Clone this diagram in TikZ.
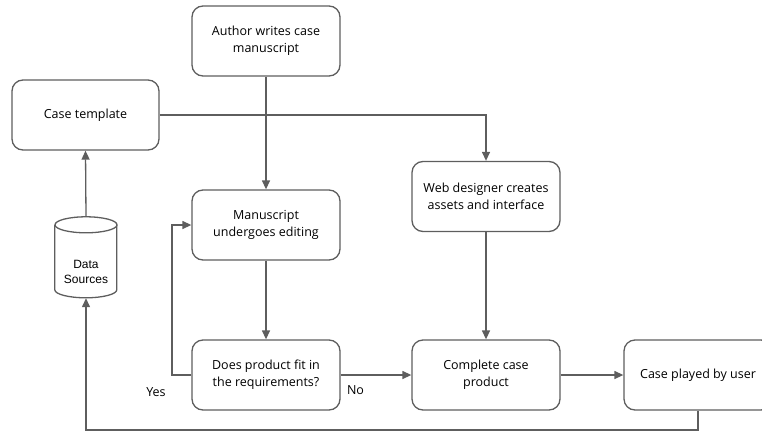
\documentclass[tikz,border=0pt]{standalone}
\usepackage{fontspec}
\setmainfont{Open Sans}
\newfontfamily\dsfont{Liberation Sans}
\usetikzlibrary{arrows.meta}
\definecolor{linegray}{HTML}{5E5E5E}
\tikzset{
  flowbox/.style={draw=linegray, line width=1.3pt, rounded corners=11pt,
    minimum width=148pt, minimum height=70pt, align=center,
    font=\fontsize{12.5}{17}\selectfont, inner sep=2pt},
  conn/.style={draw=linegray, line width=1.3pt, -{Triangle[length=9pt,width=8pt]}},
  plain/.style={draw=linegray, line width=1.3pt},
  lbl/.style={font=\fontsize{12.5}{14}\selectfont, inner sep=0pt}
}
\begin{document}
\begin{tikzpicture}[x=1pt,y=-1pt]
\useasboundingbox (0,0) rectangle (762,436);
\clip (0,0) rectangle (762,436);
\node[flowbox] (author) at (266,41) {Author writes case\\manuscript};
\node[flowbox, minimum width=147pt] (tmpl) at (85.5,115) {Case template};
\node[flowbox] (edit) at (266,225) {Manuscript\\undergoes editing};
\node[flowbox] (web) at (486,196.5) {Web designer creates\\assets and interface};
\node[flowbox] (fit) at (266,375) {Does product fit in\\the requirements?};
\node[flowbox] (complete) at (486,375) {Complete case\\product};
\node[flowbox] (played) at (698,375) {Case played by user};
% data sources cylinder
\node[minimum width=62pt, minimum height=81pt, inner sep=0pt] (ds) at (86,257.5) {};
\draw[plain] (ds.north west) ++(0,8) -- ++(0,65)
   arc[start angle=180, end angle=0, x radius=31, y radius=8] -- ++(0,-65);
\draw[plain] (ds.north) ++(0,8) ellipse[x radius=31, y radius=8];
\node[align=center, inner sep=0pt, font=\dsfont\fontsize{12}{15.5}\selectfont] (dstext) at (86,272) {Data\\Sources};
% connectors
\coordinate (tw) at (web.north |- tmpl.east);
\draw[conn] (tmpl.east) -- (tw) -- (web.north);
\draw[conn] (author.south) -- (edit.north);
\draw[conn] (edit.south) -- (fit.north);
\draw[conn] (web.south) -- (complete.north);
\draw[conn] (ds.north) -- (tmpl.south);
\coordinate (yl) at (172,375);
\draw[conn] (fit.west) -- (yl) |- (edit.west);
\draw[conn] (fit.east) -- (complete.west);
\draw[conn] (complete.east) -- (played.west);
\coordinate (b1) at (played.south |- 0,430);
\coordinate (b2) at (ds.south |- 0,430);
\draw[conn] (played.south) -- (b1) -- (b2) -- (ds.south);
\node[lbl] (yes) at (156,392) {Yes};
\node[lbl] (no) at (355.5,390) {No};
\end{tikzpicture}
\end{document}
